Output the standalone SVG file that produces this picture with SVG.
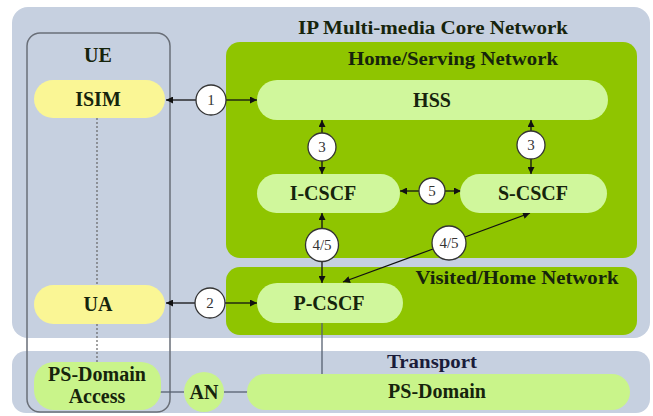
<svg xmlns="http://www.w3.org/2000/svg" width="653" height="416" viewBox="0 0 653 416">
<defs>
<marker id="ah" viewBox="0 0 10 10" refX="10" refY="5" markerWidth="8" markerHeight="7" orient="auto-start-reverse" markerUnits="userSpaceOnUse">
<path d="M0,0 L10,5 L0,10 z" fill="#111"/>
</marker>
<style>
.t{font-family:"Liberation Serif","Times New Roman",serif;font-weight:bold;text-anchor:middle;fill:#16240c}
.title{font-size:18px}
.lbl{font-size:20px}
.num{font-family:"Liberation Serif","Times New Roman",serif;font-size:15px;text-anchor:middle;fill:#333}
.area{fill:#c6d0e0}
.green{fill:#8fc500}
.pill{fill:#d0f79c}
.ypill{fill:#faf695}
.circ{fill:#fff;stroke:#333;stroke-width:1.3}
.conn{stroke:#111;stroke-width:1.3;fill:none}
.plain{stroke:#556070;stroke-width:1.3;fill:none}
</style>
</defs>
<rect width="653" height="416" fill="#ffffff"/>

<g id="ims-core">
<rect class="area" x="12" y="7" width="638" height="331" rx="16"/>
<text class="t title" x="433" y="34" textLength="270" lengthAdjust="spacingAndGlyphs">IP Multi-media Core Network</text>
</g>
<g id="transport">
<rect class="area" x="12" y="351" width="638" height="62" rx="14"/>
<text class="t title" x="432" y="368" style="fill:#1a1c3a" textLength="90" lengthAdjust="spacingAndGlyphs">Transport</text>
</g>
<g id="home-serving">
<rect class="green" x="226" y="42" width="411" height="216" rx="14"/>
<text class="t title" x="453" y="65" textLength="210" lengthAdjust="spacingAndGlyphs">Home/Serving Network</text>
</g>
<g id="visited-home">
<rect class="green" x="226" y="267" width="411" height="68" rx="14"/>
<text class="t title" x="517" y="284" textLength="203" lengthAdjust="spacingAndGlyphs">Visited/Home Network</text>
</g>
<g id="ue">
<rect x="27" y="33" width="143" height="379" rx="13" fill="none" stroke="#6a6f78" stroke-width="1.5"/>
<text class="t lbl" x="98" y="62">UE</text>
</g>

<g id="connectors">
<line x1="97" y1="118" x2="97" y2="285" stroke="#666" stroke-width="1.2" stroke-dasharray="2,2"/>
<line x1="97" y1="324" x2="97" y2="362" stroke="#666" stroke-width="1.2" stroke-dasharray="2,2"/>
<line class="conn" x1="166" y1="100" x2="196" y2="100" marker-start="url(#ah)"/>
<line class="conn" x1="226" y1="100" x2="257" y2="100" marker-end="url(#ah)"/>
<line class="conn" x1="166" y1="303" x2="195" y2="303" marker-start="url(#ah)"/>
<line class="conn" x1="225" y1="303" x2="257" y2="303" marker-end="url(#ah)"/>
<line class="conn" x1="322" y1="120" x2="322" y2="133" marker-start="url(#ah)"/>
<line class="conn" x1="322" y1="161" x2="322" y2="174" marker-end="url(#ah)"/>
<line class="conn" x1="531" y1="120" x2="531" y2="131" marker-start="url(#ah)"/>
<line class="conn" x1="531" y1="159" x2="531" y2="174" marker-end="url(#ah)"/>
<line class="conn" x1="400" y1="191" x2="419" y2="191" marker-start="url(#ah)"/>
<line class="conn" x1="445" y1="191" x2="461" y2="191" marker-end="url(#ah)"/>
<line class="conn" x1="322" y1="213" x2="322" y2="229" marker-start="url(#ah)"/>
<line class="conn" x1="322" y1="261" x2="322" y2="283" marker-end="url(#ah)"/>
<line class="conn" x1="343" y1="282" x2="433" y2="249" marker-start="url(#ah)"/>
<line class="conn" x1="465" y1="237" x2="530" y2="213" marker-end="url(#ah)"/>
<line class="plain" x1="322" y1="323" x2="322" y2="375"/>
<line class="plain" x1="160" y1="392" x2="184" y2="392"/>
<line class="plain" x1="224" y1="392" x2="248" y2="392"/>
</g>

<g id="isim"><rect class="ypill" x="34" y="80" width="131" height="38" rx="19"/><text class="t lbl" x="98" y="106">ISIM</text></g>
<g id="ua"><rect class="ypill" x="34" y="285" width="131" height="39" rx="19.5"/><text class="t lbl" x="98" y="311">UA</text></g>
<g id="ps-domain-access"><rect class="pill" x="34" y="362" width="127" height="48" rx="20" style="fill:#c9f48a"/><text class="t lbl" x="97" y="381">PS-Domain</text><text class="t lbl" x="97" y="403">Access</text></g>
<g id="an"><circle cx="204" cy="392" r="20" fill="#c9f48a"/><text class="t lbl" x="204" y="399">AN</text></g>
<g id="ps-domain"><rect class="pill" x="247" y="374" width="383" height="36" rx="18" style="fill:#c9f48a"/><text class="t lbl" x="437" y="398">PS-Domain</text></g>
<g id="hss"><rect class="pill" x="257" y="80" width="351" height="40" rx="20"/><text class="t lbl" x="432" y="107">HSS</text></g>
<g id="i-cscf"><rect class="pill" x="257" y="174" width="143" height="39" rx="19.5"/><text class="t lbl" x="323" y="200">I-CSCF</text></g>
<g id="s-cscf"><rect class="pill" x="460" y="174" width="147" height="39" rx="19.5"/><text class="t lbl" x="533" y="200">S-CSCF</text></g>
<g id="p-cscf"><rect class="pill" x="257" y="283" width="146" height="40" rx="20"/><text class="t lbl" x="329" y="310">P-CSCF</text></g>

<g id="lbl-1"><circle class="circ" cx="211" cy="100" r="15"/><text class="num" x="211" y="105">1</text></g>
<g id="lbl-2"><circle class="circ" cx="210" cy="303" r="15"/><text class="num" x="210" y="308">2</text></g>
<g id="lbl-3a"><circle class="circ" cx="322" cy="147" r="14"/><text class="num" x="322" y="152">3</text></g>
<g id="lbl-3b"><circle class="circ" cx="531" cy="145" r="14"/><text class="num" x="531" y="150">3</text></g>
<g id="lbl-5"><circle class="circ" cx="432" cy="191" r="13"/><text class="num" x="432" y="196">5</text></g>
<g id="lbl-45a"><circle class="circ" cx="322" cy="245" r="16.5"/><text class="num" x="322" y="250">4/5</text></g>
<g id="lbl-45b"><circle class="circ" cx="449" cy="243" r="17"/><text class="num" x="449" y="248">4/5</text></g>
</svg>
